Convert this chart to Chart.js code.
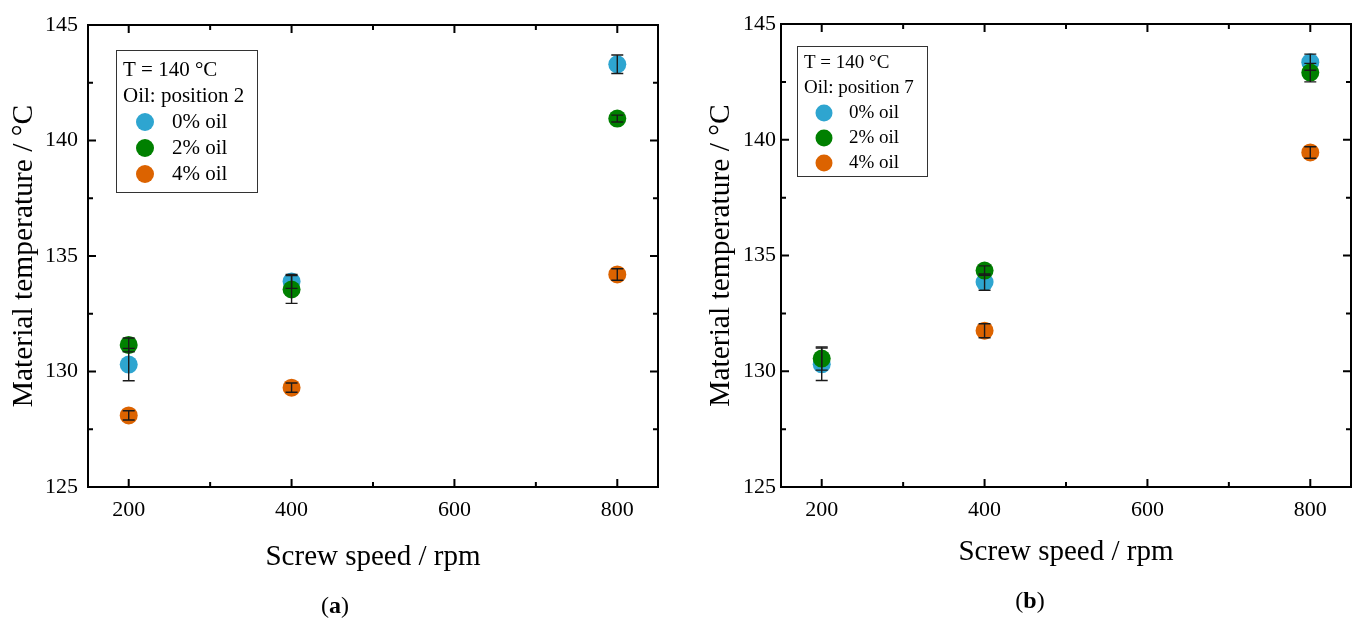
<!DOCTYPE html>
<html><head><meta charset="utf-8">
<script src="https://cdn.jsdelivr.net/npm/chart.js@4.4.0/dist/chart.umd.min.js"></script>
<style>
html,body{margin:0;padding:0;background:#fff;}
#wrap{position:relative;width:1360px;height:622px;background:#fff;}
.box{position:absolute;top:0;width:680px;height:622px;}
</style></head><body>
<div id="wrap">
  <div class="box" style="left:0"><canvas id="c1"></canvas></div>
  <div class="box" style="left:680px"><canvas id="c2"></canvas></div>
</div>
<script>
// ---- data ----
const screwSpeed = [200, 400, 800];
const xTickValues = [200, 400, 600, 800];
const yTickValues = [125, 130, 135, 140, 145];
const seriesLabels = ['0% oil', '2% oil', '4% oil'];
const headerPos2 = ['T = 140 °C', 'Oil: position 2'];
const headerPos7 = ['T = 140 °C', 'Oil: position 7'];

const tempPos2_0 = [130.3, 133.9, 143.3];
const errPos2_0  = [0.7, 0.3, 0.4];
const tempPos2_2 = [131.15, 133.55, 140.95];
const errPos2_2  = [0.3, 0.6, 0.15];
const tempPos2_4 = [128.1, 129.3, 134.2];
const errPos2_4  = [0.2, 0.2, 0.25];

const tempPos7_0 = [130.3, 133.85, 143.35];
const errPos7_0  = [0.7, 0.35, 0.35];
const tempPos7_2 = [130.55, 134.35, 142.9];
const errPos7_2  = [0.5, 0.2, 0.4];
const tempPos7_4 = [null, 131.75, 139.45];
const errPos7_4  = [null, 0.3, 0.25];

const seriesColors = ['#2ea5d0', '#008000', '#dc6300'];
const FONT = '"Liberation Serif", "Times New Roman", serif';

function makeData(temps, errs) {
  const out = [];
  screwSpeed.forEach((s, i) => {
    if (temps[i] !== null) out.push({x: s, y: temps[i], err: errs[i]});
  });
  return out;
}

const framePlugin = {
  id: 'framePlugin',
  afterDatasetsDraw(chart) {
    const ctx = chart.ctx;
    const xs = chart.scales.x, ys = chart.scales.y;
    ctx.save();
    ctx.strokeStyle = '#1a1a1a';
    ctx.lineWidth = 1.4;
    chart.data.datasets.forEach(ds => {
      ds.data.forEach(p => {
        if (p.err == null) return;
        const px = xs.getPixelForValue(p.x);
        const y1 = ys.getPixelForValue(p.y - p.err);
        const y2 = ys.getPixelForValue(p.y + p.err);
        const cw = 6;
        ctx.beginPath();
        ctx.moveTo(px, y1); ctx.lineTo(px, y2);
        ctx.moveTo(px - cw, y1); ctx.lineTo(px + cw, y1);
        ctx.moveTo(px - cw, y2); ctx.lineTo(px + cw, y2);
        ctx.stroke();
      });
    });
    ctx.restore();
  },
  afterDraw(chart, args, opts) {
    const ctx = chart.ctx;
    const a = chart.chartArea;
    const xs = chart.scales.x, ys = chart.scales.y;
    ctx.save();
    ctx.strokeStyle = '#000';
    ctx.lineWidth = 2;
    ctx.strokeRect(a.left, a.top, a.right - a.left, a.bottom - a.top);
    const major = 8, minor = 5;
    ctx.beginPath();
    xTickValues.forEach((v, i) => {
      const px = xs.getPixelForValue(v);
      ctx.moveTo(px, a.bottom); ctx.lineTo(px, a.bottom - major);
      ctx.moveTo(px, a.top); ctx.lineTo(px, a.top + major);
      if (i < xTickValues.length - 1) {
        const m = xs.getPixelForValue((v + xTickValues[i + 1]) / 2);
        ctx.moveTo(m, a.bottom); ctx.lineTo(m, a.bottom - minor);
        ctx.moveTo(m, a.top); ctx.lineTo(m, a.top + minor);
      }
    });
    yTickValues.forEach((v, i) => {
      const py = ys.getPixelForValue(v);
      ctx.moveTo(a.left, py); ctx.lineTo(a.left + major, py);
      ctx.moveTo(a.right, py); ctx.lineTo(a.right - major, py);
      if (i < yTickValues.length - 1) {
        const m = ys.getPixelForValue((v + yTickValues[i + 1]) / 2);
        ctx.moveTo(a.left, m); ctx.lineTo(a.left + minor, m);
        ctx.moveTo(a.right, m); ctx.lineTo(a.right - minor, m);
      }
    });
    ctx.stroke();

    // legend box
    const L = opts.legend;
    ctx.lineWidth = 1;
    ctx.strokeStyle = '#333';
    ctx.strokeRect(L.x + 0.5, L.y + 0.5, L.w, L.h);
    ctx.fillStyle = '#000';
    ctx.font = L.fontSize + 'px ' + FONT;
    ctx.textBaseline = 'middle';
    ctx.textAlign = 'left';
    L.header.forEach((t, i) => {
      ctx.fillText(t, L.x + L.pad, L.y + L.first + i * L.step);
    });
    chart.data.datasets.forEach((ds, i) => {
      const yy = L.y + L.first + (L.header.length + i) * L.step;
      ctx.beginPath();
      ctx.fillStyle = ds.backgroundColor;
      ctx.arc(L.x + L.markX, yy, L.markR, 0, Math.PI * 2);
      ctx.fill();
      ctx.fillStyle = '#000';
      ctx.fillText(ds.label, L.x + L.textX, yy);
    });

    // panel label
    const P = opts.panel;
    ctx.textBaseline = 'middle';
    ctx.textAlign = 'left';
    const fN = P.size + 'px ' + FONT, fB = 'bold ' + P.size + 'px ' + FONT;
    ctx.font = fN; const w1 = ctx.measureText('(').width, w3 = ctx.measureText(')').width;
    ctx.font = fB; const w2 = ctx.measureText(P.letter).width;
    let sx = P.cx - (w1 + w2 + w3) / 2;
    ctx.font = fN; ctx.fillText('(', sx, P.cy);
    ctx.font = fB; ctx.fillText(P.letter, sx + w1, P.cy);
    ctx.font = fN; ctx.fillText(')', sx + w1 + w2, P.cy);
    ctx.restore();
  }
};

function buildChart(id, series, cfg) {
  const datasets = series.map((s, i) => ({
    label: seriesLabels[i],
    data: makeData(s.t, s.e),
    backgroundColor: seriesColors[i],
    borderColor: seriesColors[i],
    borderWidth: 0,
    pointRadius: 9,
    pointHoverRadius: 9,
    showLine: false,
    order: [2, 1, 0][i]
  }));
  return new Chart(document.getElementById(id), {
    type: 'scatter',
    data: {datasets},
    plugins: [framePlugin],
    options: {
      responsive: true,
      maintainAspectRatio: false,
      animation: false,
      events: [],
      layout: {padding: {left: 0, top: cfg.top, right: cfg.right, bottom: 0}},
      plugins: {
        legend: {display: false},
        tooltip: {enabled: false},
        framePlugin: {legend: cfg.legend, panel: cfg.panel}
      },
      scales: {
        x: {
          type: 'linear', min: 150, max: 850,
          afterBuildTicks: sc => { sc.ticks = xTickValues.map(v => ({value: v})); },
          afterFit: sc => { sc.height = 622 - cfg.bottom; },
          grid: {display: false, drawTicks: false},
          border: {display: false},
          ticks: {color: '#000', font: {family: FONT, size: 22}, padding: 10, maxRotation: 0},
          title: {display: true, text: 'Screw speed / rpm', color: '#000',
                  font: {family: FONT, size: 29}, padding: {top: 0, bottom: cfg.xTitleBottom}}
        },
        y: {
          type: 'linear', min: 125, max: 145,
          afterBuildTicks: sc => { sc.ticks = yTickValues.map(v => ({value: v})); },
          afterFit: sc => { sc.width = cfg.left; },
          grid: {display: false, drawTicks: false},
          border: {display: false},
          ticks: {color: '#000', font: {family: FONT, size: 22}, padding: cfg.yTickPad},
          title: {display: true, text: 'Material temperature / °C', color: '#000',
                  font: {family: FONT, size: 29.5}, padding: {top: cfg.yTitleTop, bottom: 0}}
        }
      }
    }
  });
}

buildChart('c1', [
  {t: tempPos2_0, e: errPos2_0},
  {t: tempPos2_2, e: errPos2_2},
  {t: tempPos2_4, e: errPos2_4}
], {
  left: 88, right: 22, top: 25, bottom: 487, yTickPad: 10, yTitleTop: 7, xTitleBottom: 47,
  legend: {header: headerPos2, x: 116, y: 50, w: 141, h: 142, pad: 7, first: 20, step: 26,
           fontSize: 21, markX: 29, markR: 9, textX: 56},
  panel: {letter: 'a', cx: 335, cy: 607, size: 24}
});

buildChart('c2', [
  {t: tempPos7_0, e: errPos7_0},
  {t: tempPos7_2, e: errPos7_2},
  {t: tempPos7_4, e: errPos7_4}
], {
  left: 101, right: 7, top: 24, bottom: 487, yTickPad: 5, yTitleTop: 24, xTitleBottom: 52,
  legend: {header: headerPos7, x: 117, y: 46, w: 130, h: 130, pad: 7, first: 17, step: 25,
           fontSize: 19, markX: 27, markR: 8.5, textX: 52},
  panel: {letter: 'b', cx: 350, cy: 602, size: 24}
});
</script>
</body></html>
